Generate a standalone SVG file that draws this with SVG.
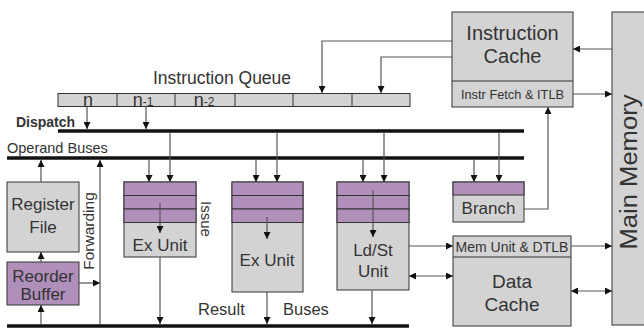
<svg xmlns="http://www.w3.org/2000/svg" width="644" height="331" viewBox="0 0 644 331">
<style>
.box{fill:#d3d3d3;stroke:#333;stroke-width:1}
.pur{fill:#b08fbb;stroke:#333;stroke-width:1}
.c{fill:none;stroke:#555;stroke-width:1.2}
.bus{stroke:#111;stroke-width:3.5}
text{font-family:"Liberation Sans",Arial,sans-serif;fill:#333}
.m{text-anchor:middle}
</style>
<defs>
<marker id="ah" viewBox="0 0 10 10" refX="10" refY="5" markerWidth="7" markerHeight="7" markerUnits="userSpaceOnUse" orient="auto-start-reverse">
<path d="M0,0 L10,5 L0,10 z" fill="#111"/>
</marker>
</defs>
<rect x="0" y="0" width="644" height="331" fill="#fff"/>

<g id="instruction-queue">
<rect class="box" x="58" y="93.5" width="352" height="13"/>
<path d="M117,93.5V106.5M175,93.5V106.5M235,93.5V106.5M293,93.5V106.5M352,93.5V106.5" stroke="#333" stroke-width="1"/>
<text class="m" x="88" y="105.5" font-size="18">n</text>
<text class="m" x="143" y="105.5" font-size="18">n<tspan font-size="12">-1</tspan></text>
<text class="m" x="204" y="105.5" font-size="18">n<tspan font-size="12">-2</tspan></text>
<text class="m" x="222" y="84" font-size="17.5">Instruction Queue</text>
</g>

<g id="labels">
<text x="16" y="127" font-size="14" font-weight="bold">Dispatch</text>
<text x="7" y="153" font-size="14.5">Operand Buses</text>
<text x="198" y="315" font-size="16.5">Result</text>
<text x="283" y="315" font-size="16.5">Buses</text>
<text transform="translate(201,201) rotate(90)" font-size="15">Issue</text>
<text class="m" transform="translate(94,231) rotate(-90)" font-size="15.5">Forwarding</text>
</g>

<g id="instruction-cache">
<rect class="box" x="452" y="12" width="121" height="95"/>
<line x1="452" y1="81" x2="573" y2="81" stroke="#333"/>
<text class="m" x="512.5" y="39.5" font-size="20">Instruction</text>
<text class="m" x="512.5" y="62.5" font-size="20">Cache</text>
<text class="m" x="512.5" y="99" font-size="12.8">Instr Fetch &amp; ITLB</text>
</g>

<g id="main-memory">
<rect class="box" x="612" y="12" width="34" height="313"/>
<text class="m" transform="translate(637,172) rotate(-90)" font-size="23" textLength="155" lengthAdjust="spacingAndGlyphs">Main Memory</text>
</g>

<g id="register-file">
<rect class="box" x="7" y="182" width="72" height="70"/>
<text class="m" x="43" y="210" font-size="17">Register</text>
<text class="m" x="43" y="232.5" font-size="17">File</text>
</g>

<g id="reorder-buffer">
<rect class="pur" x="7" y="262" width="72" height="43"/>
<text class="m" x="43" y="282" font-size="17">Reorder</text>
<text class="m" x="43" y="300" font-size="17">Buffer</text>
</g>

<g id="ex-unit-1">
<rect class="box" x="124" y="182" width="72" height="75"/>
<rect class="pur" x="124" y="182" width="72" height="13.5"/>
<rect class="pur" x="124" y="195.5" width="72" height="13.5"/>
<rect class="pur" x="124" y="209" width="72" height="13.5"/>
<text class="m" x="160" y="251" font-size="17">Ex Unit</text>
</g>

<g id="ex-unit-2">
<rect class="box" x="232" y="182" width="71" height="110"/>
<rect class="pur" x="232" y="182" width="71" height="13.5"/>
<rect class="pur" x="232" y="195.5" width="71" height="13.5"/>
<rect class="pur" x="232" y="209" width="71" height="13.5"/>
<text class="m" x="267" y="266" font-size="17">Ex Unit</text>
</g>

<g id="ldst-unit">
<rect class="box" x="337" y="182" width="72" height="108"/>
<rect class="pur" x="337" y="182" width="72" height="13.5"/>
<rect class="pur" x="337" y="195.5" width="72" height="13.5"/>
<rect class="pur" x="337" y="209" width="72" height="13.5"/>
<text class="m" x="373" y="256" font-size="17">Ld/St</text>
<text class="m" x="373" y="276.5" font-size="17">Unit</text>
</g>

<g id="branch">
<rect class="box" x="453" y="182" width="71" height="40"/>
<rect class="pur" x="453" y="182" width="71" height="13"/>
<text class="m" x="488.5" y="214" font-size="17">Branch</text>
</g>

<g id="data-cache">
<rect class="box" x="453" y="236" width="118" height="90"/>
<line x1="453" y1="257" x2="571" y2="257" stroke="#333"/>
<text class="m" x="512" y="252" font-size="14">Mem Unit &amp; DTLB</text>
<text class="m" x="512" y="288" font-size="19">Data</text>
<text class="m" x="512" y="310.5" font-size="19">Cache</text>
</g>

<g id="connectors">
<line class="bus" x1="58" y1="131" x2="524" y2="131"/>
<line class="bus" x1="7" y1="158" x2="524" y2="158"/>
<line class="bus" x1="7" y1="326" x2="409" y2="326"/>

<path class="c" d="M452,41H322V93" marker-end="url(#ah)"/>
<path class="c" d="M452,57H381V93" marker-end="url(#ah)"/>
<path class="c" d="M612,49H573" marker-end="url(#ah)"/>
<path class="c" d="M573,94H612" marker-end="url(#ah)"/>
<path class="c" d="M524,209H548V107" marker-end="url(#ah)"/>

<path class="c" d="M87,107V129" marker-end="url(#ah)"/>
<path class="c" d="M146,107V129" marker-end="url(#ah)"/>

<path class="c" d="M170,133V182" marker-end="url(#ah)"/>
<path class="c" d="M277,133V182" marker-end="url(#ah)"/>
<path class="c" d="M384,133V182" marker-end="url(#ah)"/>
<path class="c" d="M499,133V182" marker-end="url(#ah)"/>
<path class="c" d="M149,160V182" marker-end="url(#ah)"/>
<path class="c" d="M256,160V182" marker-end="url(#ah)"/>
<path class="c" d="M363,160V182" marker-end="url(#ah)"/>
<path class="c" d="M474,160V182" marker-end="url(#ah)"/>

<path class="c" d="M160,203V233" marker-end="url(#ah)"/>
<path class="c" d="M267,217V239" marker-end="url(#ah)"/>
<path class="c" d="M373,190V237" marker-end="url(#ah)"/>

<path class="c" d="M160,257V324" marker-end="url(#ah)"/>
<path class="c" d="M267,292V324" marker-end="url(#ah)"/>
<path class="c" d="M372,290V324" marker-end="url(#ah)"/>

<path class="c" d="M41,182V160" marker-end="url(#ah)"/>
<path class="c" d="M41,262V252" marker-end="url(#ah)"/>
<path class="c" d="M41,324V305" marker-end="url(#ah)"/>
<path class="c" d="M79,283H100" marker-end="url(#ah)"/>
<path class="c" d="M100,324V160" marker-end="url(#ah)"/>

<path class="c" d="M409,246H453" marker-end="url(#ah)"/>
<path class="c" d="M409,276H453" marker-start="url(#ah)" marker-end="url(#ah)"/>
<path class="c" d="M571,246H612" marker-end="url(#ah)"/>
<path class="c" d="M571,291H612" marker-start="url(#ah)" marker-end="url(#ah)"/>
</g>
</svg>
